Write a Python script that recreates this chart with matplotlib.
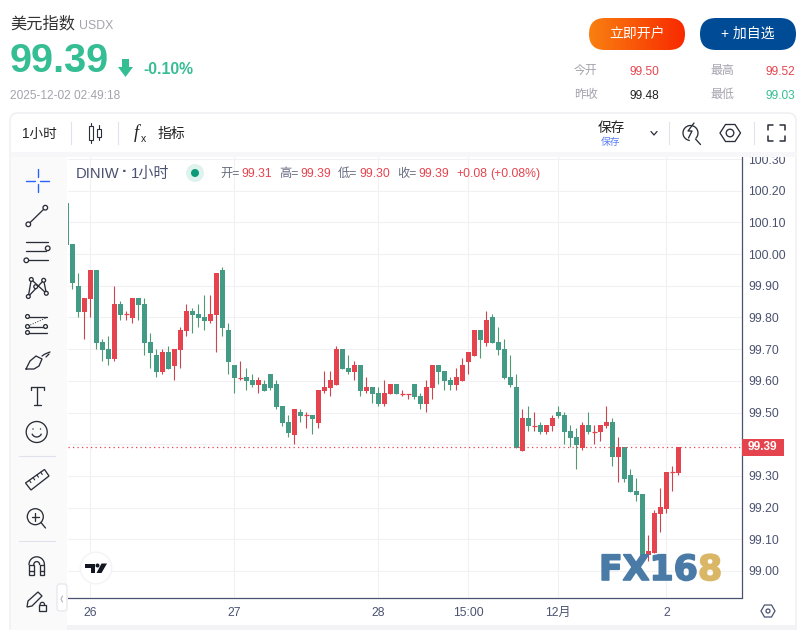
import matplotlib
matplotlib.use('Agg')
import matplotlib.pyplot as plt
import matplotlib.patheffects as pe
import numpy as np
from matplotlib.patches import Circle, FancyBboxPatch, Polygon, Rectangle

plt.rcParams['font.family'] = ['Liberation Sans', 'Noto Sans CJK SC', 'DejaVu Sans']

#----------------------------------------------------
# Hourly candles
#----------------------------------------------------
opens = [100.160,100.031,99.899,99.818,99.859,99.949,99.722,99.700,99.668,99.842,
         99.809,99.798,99.861,99.842,99.722,99.681,99.628,99.690,99.647,99.696,
         99.757,99.820,99.810,99.801,99.788,99.807,99.949,99.760,99.649,99.609,
         99.611,99.602,99.586,99.589,99.621,99.589,99.520,99.469,99.428,99.501,
         99.490,99.491,99.466,99.567,99.577,99.586,99.700,99.640,99.627,99.649,
         99.567,99.580,99.561,99.526,99.558,99.589,99.559,99.559,99.589,99.551,
         99.526,99.577,99.649,99.630,99.602,99.586,99.599,99.659,99.678,99.760,
         99.719,99.801,99.722,99.700,99.611,99.580,99.378,99.482,99.458,99.460,
         99.438,99.457,99.501,99.491,99.441,99.422,99.387,99.460,99.439,99.438,
         99.457,99.469,99.359,99.390,99.302,99.251,99.242,99.049,99.058,99.179,
         99.197,99.310,99.308]
highs = [100.160,100.031,99.940,99.861,99.949,99.949,99.731,99.741,99.899,99.851,
         99.820,99.861,99.861,99.861,99.750,99.700,99.700,99.709,99.700,99.769,
         99.842,99.829,99.842,99.870,99.870,99.940,99.959,99.782,99.649,99.662,
         99.640,99.621,99.611,99.602,99.621,99.602,99.520,99.491,99.510,99.510,
         99.501,99.491,99.570,99.630,99.630,99.709,99.700,99.681,99.662,99.649,
         99.611,99.580,99.580,99.602,99.589,99.589,99.570,99.560,99.589,99.561,
         99.602,99.649,99.649,99.630,99.611,99.640,99.671,99.690,99.760,99.760,
         99.820,99.810,99.769,99.731,99.681,99.621,99.510,99.520,99.501,99.469,
         99.460,99.491,99.520,99.501,99.460,99.450,99.469,99.501,99.460,99.460,
         99.520,99.482,99.422,99.390,99.321,99.292,99.242,99.112,99.191,99.261,
         99.311,99.330,99.390]
lows = [100.028,99.890,99.802,99.732,99.802,99.701,99.663,99.650,99.663,99.792,
        99.792,99.783,99.792,99.682,99.641,99.612,99.622,99.637,99.603,99.641,
        99.742,99.751,99.770,99.761,99.783,99.691,99.742,99.622,99.562,99.603,
        99.570,99.581,99.562,99.567,99.570,99.510,99.459,99.422,99.400,99.469,
        99.450,99.431,99.450,99.561,99.551,99.586,99.637,99.621,99.602,99.551,
        99.561,99.529,99.520,99.520,99.558,99.558,99.551,99.542,99.542,99.510,
        99.501,99.542,99.589,99.570,99.570,99.570,99.599,99.621,99.678,99.671,
        99.709,99.719,99.681,99.605,99.580,99.387,99.378,99.441,99.441,99.431,
        99.431,99.441,99.482,99.400,99.390,99.321,99.381,99.431,99.400,99.409,
        99.450,99.330,99.280,99.280,99.248,99.220,99.036,99.030,99.058,99.122,
        99.182,99.251,99.302]
closes = [100.028,99.909,99.818,99.861,99.949,99.720,99.696,99.668,99.842,99.807,
          99.810,99.861,99.839,99.720,99.687,99.628,99.690,99.637,99.700,99.760,
          99.820,99.807,99.798,99.788,99.810,99.940,99.766,99.659,99.608,99.610,
          99.599,99.586,99.602,99.567,99.576,99.516,99.466,99.437,99.510,99.488,
          99.491,99.479,99.570,99.580,99.602,99.700,99.637,99.627,99.649,99.567,
          99.580,99.558,99.526,99.561,99.589,99.558,99.560,99.560,99.548,99.526,
          99.580,99.649,99.627,99.599,99.586,99.611,99.649,99.690,99.760,99.728,
          99.791,99.719,99.697,99.608,99.586,99.387,99.482,99.457,99.459,99.438,
          99.460,99.482,99.488,99.438,99.419,99.397,99.460,99.438,99.440,99.460,
          99.469,99.359,99.390,99.289,99.248,99.239,99.036,99.062,99.182,99.201,
          99.311,99.311,99.390]

price_ticks = [99.00,99.10,99.20,99.30,99.40,99.50,99.60,99.70,99.80,99.90,100.00,100.10,100.20,100.30]
price_labels = ['99.00','99.10','99.20','99.30','','99.50','99.60','99.70','99.80','99.90','100.00','100.10','100.20','100.30']
date_ticks = [4,28,52,67,82,100]
date_labels = ['26','27','28','15:00','12月','2']
last_price = 99.39

GREEN = '#449b85'
GREEN_WICK = '#4f9a70'
RED = '#e5444f'
RED_WICK = '#c8464f'
QUOTE_GREEN = '#35bd94'
SLATE = '#4a5270'
GREY = '#a3a3ad'
ICON = '#2a2e39'

W, H = 808, 630
fig = plt.figure(figsize=(8.08,6.30), dpi=100, facecolor='white')

#----------------------------------------------------
# Candle chart
#----------------------------------------------------
ax = fig.add_axes([67.5/W, 1-597.5/H, 674/W, 440.5/H], zorder=1)
x = np.arange(len(opens))
w = 5/6
for i in x:
    up = closes[i] >= opens[i]
    ax.vlines(i, lows[i], highs[i], color=GREEN_WICK if not up else RED_WICK, lw=0.8, zorder=3)
    if abs(closes[i]-opens[i]) < 0.002:
        ax.hlines(closes[i], i-w/2, i+w/2, color=RED, lw=0.9, zorder=4)
    else:
        ax.bar(i, abs(closes[i]-opens[i]), w, min(opens[i],closes[i]), color=RED if up else GREEN, lw=0, zorder=4)
ax.axhline(last_price, color=RED, lw=0.9, ls=(0,(1,2.6)), zorder=5)
ax.set_xlim(0.195,112.53)
ax.set_ylim(98.9163,100.3065)
ax.yaxis.tick_right()
ax.set_yticks(price_ticks, price_labels)
ax.set_xticks(date_ticks, date_labels)
ax.tick_params(axis='both', length=0, labelsize=8.7, labelcolor=SLATE)
ax.tick_params(axis='y', pad=5)
ax.tick_params(axis='x', pad=7)
ax.grid(True, color='#f1f1f4', lw=0.8, zorder=0)
ax.set_axisbelow(True)
for s in ['top','left']:
    ax.spines[s].set_visible(False)
ax.spines['right'].set_color(SLATE)
ax.spines['bottom'].set_color(SLATE)
ax.spines['right'].set_linewidth(0.9)
ax.spines['bottom'].set_linewidth(0.9)

#----------------------------------------------------
# Page furniture, drawn in pixel coordinates
#----------------------------------------------------
ui = fig.add_axes([0,0,1,1], zorder=2)
ui.patch.set_alpha(0)
ui.axis('off')

def txt(px, py, s, size=9, color='#222222', ha='left', **kw):
    return ui.text(px, py, s, fontsize=size, color=color, ha=ha, va='center', **kw)

def line(xs, ys, color=ICON, lw=0.95, **kw):
    ui.plot(xs, ys, color=color, lw=lw, solid_capstyle='round', **kw)

def node(px, py, r=2.3, color=ICON):
    ui.add_patch(Circle((px,py), r, fc='white', ec=color, lw=0.95, zorder=6))

# header
txt(10, 24, '美元指数', 11.7, '#333333')
txt(79, 26, 'USDX', 8.8, GREY)
txt(10, 61, '99.39', 28.5, QUOTE_GREEN, weight='bold')
ui.add_patch(Polygon([(122,59),(129,59),(129,67),(133,67),(125.5,77),(118,67),(122,67)], fc=QUOTE_GREEN, lw=0))
txt(143, 70, '-0.10%', 11.3, QUOTE_GREEN, weight='bold')
txt(10, 96, '2025-12-02 02:49:18', 8.6, GREY)

# buttons
grad = np.linspace(0,1,96).reshape(1,-1)
cm = matplotlib.colors.LinearSegmentedColormap.from_list('btn', ['#f98010','#f82a00'])
im = ui.imshow(grad, extent=(589,685,50,18), cmap=cm, aspect='auto', zorder=2)
orange = FancyBboxPatch((589+16,18+16), 96-32, 0, boxstyle='round,pad=16', fc='none', ec='none', transform=ui.transData)
ui.add_patch(orange)
im.set_clip_path(orange)
ui.add_patch(FancyBboxPatch((700+16,18+16), 96-32, 0, boxstyle='round,pad=16', fc='#004b96', ec='none'))
txt(637, 34, '立即开户', 10, 'white', ha='center', zorder=5)
txt(748, 34, '+ 加自选', 10, 'white', ha='center', zorder=5)

# quote table
txt(574, 71, '今开', 8.6, GREY)
txt(630, 72, '99.50', 8.6, RED)
txt(710, 71, '最高', 8.6, GREY)
txt(765, 72, '99.52', 8.6, RED)
txt(574, 95, '昨收', 8.6, GREY)
txt(630, 96, '99.48', 8.6, '#222222')
txt(710, 95, '最低', 8.6, GREY)
txt(765, 96, '99.03', 8.6, QUOTE_GREEN)

# chart card and panels
ui.add_patch(FancyBboxPatch((10+8,113+8), 786-16, 520, boxstyle='round,pad=8', fc='none', ec='#ececf0', lw=0.9, zorder=1))
ui.add_patch(Rectangle((11,152), 785, 5, fc='#f7f7f9', lw=0, zorder=1))
ui.add_patch(Rectangle((11,157), 56, 473, fc='#fafafb', lw=0, zorder=1))
ui.add_patch(Rectangle((67,625), 729, 5, fc='#f3f3f6', lw=0, zorder=1))

# top toolbar
txt(22, 134, '1小时', 9.8, '#222222')
for sx in [70.5,117.5,668.5,753.5]:
    ui.plot([sx,sx],[122,144], color='#e0e3eb', lw=0.8)
line([90.5,90.5],[123,143], lw=0.8, zorder=0)
line([98.5,98.5],[125,140], lw=0.8, zorder=0)
ui.add_patch(Rectangle((88.5,126), 4, 14, fc='white', ec=ICON, lw=0.8))
ui.add_patch(Rectangle((96.5,129), 4, 8, fc='white', ec=ICON, lw=0.8))
txt(134, 133, 'f', 13, '#222222', style='italic', family=['Liberation Serif'])
txt(141, 139, 'x', 7.5, '#222222')
txt(158, 134, '指标', 10, '#222222')
txt(611, 128, '保存', 9.8, '#222222', ha='center')
txt(611, 142, '保存', 7, '#5b7cf5', ha='center')
line([651,654,657],[131.5,135,131.5], lw=0.9)
arc = np.linspace(np.radians(100), np.radians(400), 40)
ui.plot(690.5+7.5*np.cos(arc), 133+7.5*np.sin(arc), color=ICON, lw=0.95)
line([695.5,700.5],[139,144.5], lw=0.95)
line([694,688,692,688.5],[123,131,131,138], lw=0.95)
hexa = [(720,133),(725.5,124.5),(735,124.5),(740.5,133),(735,141.5),(725.5,141.5)]
ui.add_patch(Polygon(hexa, fc='white', ec=ICON, lw=0.95))
ui.add_patch(Circle((730,133), 3.8, fc='white', ec=ICON, lw=0.95))
line([768,768,773],[130,125,125], lw=1.1)
line([780,785,785],[125,125,130], lw=1.1)
line([768,768,773],[136,141,141], lw=1.1)
line([780,785,785],[141,141,136], lw=1.1)

# legend row over the chart
txt(76, 174, 'DINIW', 10.6, SLATE)
txt(122, 172, '·', 12, SLATE, weight='bold')
txt(131, 174, '1小时', 10.8, SLATE)
ui.add_patch(Circle((195,173), 9, fc='#dff3ee', lw=0))
ui.add_patch(Circle((195,173), 4, fc='#0b9a78', lw=0))
for lx, lab, vx, val in [(220,'开=',241,'99.31'),(279,'高=',300,'99.39'),(338,'低=',359,'99.30'),(397,'收=',418,'99.39')]:
    txt(lx, 174, lab, 8.8, '#666b80')
    txt(vx, 174, val, 8.8, RED)
txt(456, 174, '+0.08', 8.8, RED)
txt(490, 174, '(+0.08%)', 8.8, RED)

# last price tag
ui.add_patch(Rectangle((741.5,439), 42, 17, fc=RED, lw=0, zorder=5))
txt(762.5, 447.5, '99.39', 8.6, 'white', ha='center', weight='bold', zorder=6)

# left tools
line([26,35],[180.5,180.5], '#2962ff', 1.0)
line([40,49],[180.5,180.5], '#2962ff', 1.0)
line([37.5,37.5],[169,177], '#2962ff', 1.0)
line([37.5,37.5],[184,192], '#2962ff', 1.0)

line([28.3,45.3],[224.3,207.7])
node(28.3,224.3); node(45.3,207.7)

line([26,48],[242.3,242.3]); line([26,46],[251.3,251.3]); line([28,48],[260.3,260.3])
node(47.7,248.3); node(26.3,260.3)

pts = [(28.3,296.5),(31.3,279.5),(35.7,286.7),(43.7,280.3),(46.3,293.3)]
line([28.3,31.3,46.3,43.7,28.3],[296.5,279.5,293.3,280.3,296.5])
for p in pts:
    node(p[0],p[1],1.9)

line([27,47],[316.5,316.5]); line([27,47],[332.5,332.5]); line([28,47],[326.5,326.5])
line([28,46],[326,318], lw=0.7, ls=':')
node(27.5,316.5,1.9); node(27.5,326.5,1.9); node(45.5,326.5,1.9); node(27.5,332.5,1.9)

line([26,30,36,42,39,34,26],[369,361,356,359,366,369,369])
line([42,45,50],[356,354,352])
line([46,49],[357,354])

line([30.5,43.5],[387,387]); line([37,37],[387,405]); line([33.5,40.5],[405,405])
line([30.5,30.5],[387,390]); line([43.5,43.5],[387,390])

ui.add_patch(Circle((36.7,432), 10.5, fc='none', ec=ICON, lw=0.95))
ui.add_patch(Circle((33,429), 0.7, fc=ICON, lw=0))
ui.add_patch(Circle((40.5,429), 0.7, fc=ICON, lw=0))
smile = np.linspace(np.pi*0.15, np.pi*0.85, 12)
ui.plot(36.7+5*np.cos(smile), 432+5*np.sin(smile), color=ICON, lw=0.95)

ui.plot([19,55],[456,456], color='#e0e3eb', lw=0.8)
ruler = [(25.5,483),(44.5,469.5),(49,476),(31,490)]
ui.add_patch(Polygon(ruler, fc='none', ec=ICON, lw=0.95))
for f in [0.2,0.4,0.6,0.8]:
    x0 = 25.5+f*19; y0 = 483-f*13.5
    line([x0,x0+1.6],[y0,y0+2.3], lw=0.8)

ui.add_patch(Circle((35.3,516.7), 8, fc='none', ec=ICON, lw=0.95))
line([41,45.5],[522.5,528])
line([31.5,39],[516.7,516.7]); line([35.3,35.3],[513,520.5])

ui.plot([19,55],[541,541], color='#e0e3eb', lw=0.8)
th = np.linspace(np.pi,2*np.pi,20)
ui.plot(36.7+7.7*np.cos(th), 564.5+7.7*np.sin(th), color=ICON, lw=0.95)
ui.plot(36.7+2.9*np.cos(th), 564.5+2.9*np.sin(th), color=ICON, lw=0.95)
ui.add_patch(Rectangle((29,564.5), 4.8, 10.5, fc='none', ec=ICON, lw=0.95))
ui.add_patch(Rectangle((39.6,564.5), 4.8, 10.5, fc='none', ec=ICON, lw=0.95))
line([29,33.8],[571,571]); line([39.6,44.4],[571,571])

ui.add_patch(Polygon([(27,607),(28,601),(38,592),(42,596),(32,606)], fc='none', ec=ICON, lw=0.95))
ui.add_patch(Rectangle((38.5,605), 7.5, 6, fc='none', ec=ICON, lw=0.95))
ui.plot(42.3+2.2*np.cos(th), 604.5+2.2*np.sin(th), color=ICON, lw=0.9)

# collapse tab
ui.add_patch(FancyBboxPatch((60,587), 4, 21, boxstyle='round,pad=3', fc='white', ec='#e6e6ee', lw=0.9, zorder=6))
line([62.5,61,62.5],[596,599,602], '#b0b3c0', 0.8, zorder=7)

# TradingView mark
ui.add_patch(Circle((96,568), 16.5, fc='#f4f4f6', lw=0))
ui.add_patch(Circle((96,568), 15, fc='white', lw=0))
ui.add_patch(Polygon([(85,563.5),(95,563.5),(95,573),(90.5,573),(90.5,567.5),(85,567.5)], fc='#131722', lw=0))
ui.add_patch(Circle((97.5,565.5), 2, fc='#131722', lw=0))
ui.add_patch(Polygon([(101.5,563.5),(107,563.5),(101.5,573),(96.5,573)], fc='#131722', lw=0))

# bottom right gear
gear = [(761,611),(764.5,605),(771.5,605),(775,611),(771.5,617),(764.5,617)]
ui.add_patch(Polygon(gear, fc='white', ec=SLATE, lw=0.9))
ui.add_patch(Circle((768,611), 2, fc='white', ec=SLATE, lw=0.9))

# watermark
blue = txt(599, 570, 'FX16', 25, '#4a7ba6', weight='bold', family=['DejaVu Sans'])
blue.set_path_effects([pe.withStroke(linewidth=1.2, foreground='#4a7ba6')])
gold = txt(698, 570, '8', 25, '#d9b766', weight='bold', family=['DejaVu Sans'])
gold.set_path_effects([pe.withStroke(linewidth=1.2, foreground='#d9b766')])

ui.set_xlim(0,W)
ui.set_ylim(H,0)

fig.savefig('out.png', dpi=100)
